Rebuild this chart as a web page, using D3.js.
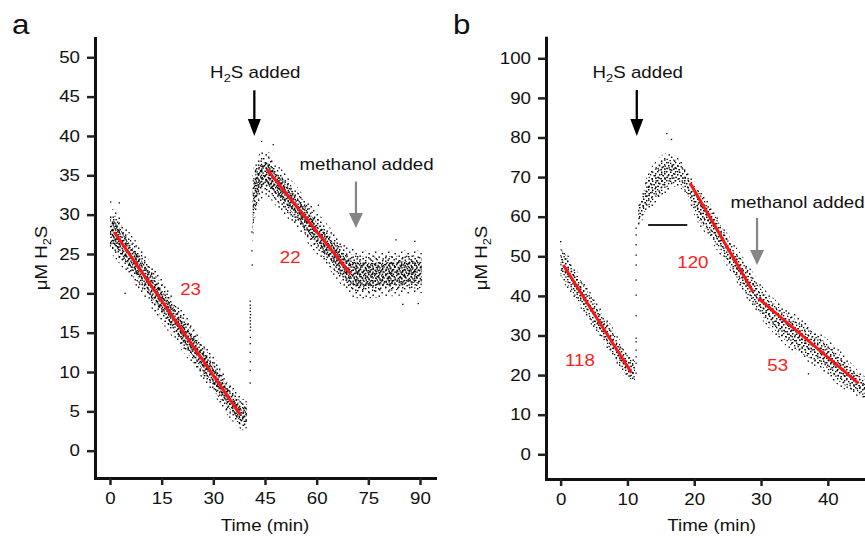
<!DOCTYPE html>
<html><head><meta charset="utf-8">
<script src="https://cdn.jsdelivr.net/npm/d3@7"></script>
<style>
body{margin:0;background:#fff}
svg{display:block}
text{font-family:"Liberation Sans",Arial,Helvetica,sans-serif}
</style>
</head><body>
<svg id="chart" width="865" height="538"></svg>
<script>
// ---------------- data ----------------
const xTicksA = [0, 15, 30, 45, 60, 75, 90];
const yTicksA = [0, 5, 10, 15, 20, 25, 30, 35, 40, 45, 50];
const xTicksB = [0, 10, 20, 30, 40];
const yTicksB = [0, 10, 20, 30, 40, 50, 60, 70, 80, 90, 100];

// panel a, trace before H2S addition (centre of the point cloud and its half-width)
const timeA1   = [0, 1, 3, 5, 8, 11, 14, 17, 20, 23, 26, 29, 32, 35, 37, 38.5, 39.7];
const midA1    = [27.8, 27.7, 26.6, 25.3, 23.5, 21.6, 19.7, 17.8, 15.9, 14.0, 12.1, 10.2, 8.3, 6.3, 5.2, 4.6, 4.6];
const spreadA1 = [2.8, 3.0, 3.0, 2.9, 2.9, 2.9, 2.8, 2.7, 2.6, 2.6, 2.5, 2.5, 2.4, 2.3, 2.1, 2.0, 1.8];
// panel a, trace after H2S addition
const timeA2   = [41.4, 42.0, 42.8, 44.0, 45.5, 48, 51, 54, 57, 60, 63, 66, 69, 71, 73, 76, 80, 84, 88, 90.5];
const midA2    = [30.5, 32.8, 34.0, 35.0, 35.2, 34.0, 32.5, 31.0, 29.3, 27.7, 26.1, 24.5, 23.0, 22.5, 22.4, 22.4, 22.5, 22.6, 22.7, 22.7];
const spreadA2 = [4.5, 3.8, 3.3, 3.0, 2.9, 2.8, 2.7, 2.7, 2.7, 2.7, 2.7, 2.8, 3.0, 3.1, 3.1, 3.0, 2.9, 2.9, 2.8, 2.7];
// panel a, isolated points (injection streak and outliers)
const pointTimeA = [40.7, 40.7, 40.75, 40.7, 40.8, 40.7, 40.75, 40.7, 40.8, 40.7, 40.75, 40.7, 40.7, 40.75, 40.7, 40.7, 41.2, 41.2, 41.3,
                    0.2, 2.7, 4.4, 44.0, 47.4, 60.5, 83, 88.5, 85, 89.5];
const pointValA  = [19.0, 18.5, 18.1, 17.7, 17.3, 16.9, 16.5, 16.1, 15.7, 15.3, 14.4, 13.6, 12.5, 11.3, 10.2, 8.6, 27.8, 25.4, 23.6,
                    31.6, 31.5, 20.0, 39.3, 38.9, 31.2, 26.8, 26.6, 18.6, 18.7];
// panel a, fitted red lines [start, end]
const fitTimeA = [[1.25, 37.9], [45.5, 69.9]];
const fitValA  = [[27.76, 4.54], [35.77, 22.46]];
const rateLabelsA = ["23", "22"];

// panel b, trace before H2S addition
const timeB1   = [0, 0.5, 2, 4, 6, 8, 10, 11.1];
const midB1    = [48.6, 47.6, 43.5, 38.2, 32.9, 27.6, 22.4, 21.0];
const spreadB1 = [4.5, 4.5, 4.2, 4.0, 4.0, 3.8, 3.6, 3.4];
// panel b, trace after H2S addition
const timeB2   = [11.6, 12.0, 12.9, 14.4, 15.9, 17.4, 18.9, 20.4, 22.4, 25.3, 28.3, 29.8, 32.8, 35.8, 38.8, 41.8, 44.8, 46.5];
const midB2    = [60.0, 61.6, 65.5, 68.8, 71.0, 71.4, 68.4, 63.5, 58.7, 50.7, 42.7, 39.0, 33.5, 29.6, 26.0, 21.7, 17.5, 15.5];
const spreadB2 = [3.0, 3.4, 4.6, 5.5, 5.0, 3.8, 3.4, 4.5, 4.6, 4.2, 4.6, 4.3, 4.6, 5.0, 4.6, 4.6, 3.2, 3.0];
// panel b, isolated points
const pointTimeB = [11.3, 11.3, 11.3, 11.3, 11.3, 11.3, 11.3, 11.3, 11.3, 11.3, 11.3, 11.3, 11.3, 11.3,
                    0.0, 15.9, 16.6, 37.1];
const pointValB  = [57.1, 55.4, 52.9, 50.3, 47.8, 44.0, 40.2, 35.0, 29.3, 28.4, 26.3, 24.6, 23.0, 20.5,
                    53.7, 81.0, 79.5, 20.3];
// panel b, fitted red lines
const fitTimeB = [[0.39, 10.6], [19.36, 28.8], [29.6, 44.6]];
const fitValB  = [[47.8, 20.6], [68.5, 41.06], [39.4, 17.9]];
const rateLabelsB = ["118", "120", "53"];
// panel b, black horizontal bar
const barTimeB = [13.1, 18.96];
const barValB  = 57.9;

// ---------------- drawing ----------------
const SX = 1.17; // horizontal stretch of the reference lettering
const svg = d3.select("#chart");
const defs = svg.append("defs");

function makePattern(id, size, pts, dot) {
  const p = defs.append("pattern").attr("id", id)
    .attr("patternUnits", "userSpaceOnUse").attr("width", size).attr("height", size);
  pts.forEach(([px, py]) => p.append("rect").attr("x", px).attr("y", py)
    .attr("width", dot).attr("height", dot).attr("fill", "#000"));
}
makePattern("sparse", 13, [[1,2],[8,0.5],[4.5,6],[11,4.5],[1.5,9.5],[8.5,8.5],[5.5,11.2],[11.5,11]], 1.4);
makePattern("medium", 9, [[0,0],[4,0.7],[7,2],[2,3],[5.5,4],[0.5,5.8],[3.5,7],[7.2,6.5]], 1.3);
makePattern("medium17", 17, [[0,1],[5,0],[11,2],[15,0.5],[2.5,4],[8,5],[13.5,4.5],[0.5,8],[5.5,7.5],[10,9],
  [15,8],[3,11.5],[8,12.5],[12.5,11.5],[1,15],[6,15.5],[11,15],[15.5,13]], 1.4);
makePattern("dense", 11, [[0,0],[3.5,0.8],[7,0.2],[9.4,2.3],[1.6,2.8],[5.2,3.2],[8,4.8],[0.4,5.6],[3.4,6.2],[6,7.2],
  [9.3,7.4],[2,8.8],[5,9.4],[7.8,9.6],[2.6,4.4],[6.8,5.4],[4.2,1.9],[0.8,9.5],[8.6,0.9],[4.4,8]], 1.4);

function zip(ts, ms, ss) { return ts.map((t, i) => ({t, m: ms[i], s: ss[i]})); }

function drawPanel(cfg) {
  const g = svg.append("g");
  const x = d3.scaleLinear().domain(cfg.xDomain).range(cfg.xRange);
  const y = d3.scaleLinear().domain(cfg.yDomain).range(cfg.yRange);

  // point clouds
  cfg.clouds.forEach(cl => {
    cfg.layers.forEach(([f, pat]) => {
      const area = d3.area().curve(d3.curveMonotoneX)
        .x(d => x(d.t)).y0(d => y(d.m - d.s * f)).y1(d => y(d.m + d.s * f));
      g.append("path").datum(cl).attr("d", area).attr("fill", `url(#${pat})`);
    });
  });
  // isolated points
  g.selectAll(null).data(cfg.pts).join("rect")
    .attr("x", d => x(d[0]) - 0.65).attr("y", d => y(d[1]) - 0.65)
    .attr("width", 1.3).attr("height", 1.3).attr("fill", "#000");

  // red fits
  cfg.fitT.forEach((ft, i) => {
    g.append("line").attr("x1", x(ft[0])).attr("y1", y(cfg.fitV[i][0]))
      .attr("x2", x(ft[1])).attr("y2", y(cfg.fitV[i][1]))
      .attr("stroke", "#ff1414").attr("stroke-width", 3);
  });
  cfg.rateLabels.forEach((lab, i) => {
    const [lt, lv] = cfg.ratePos[i];
    g.append("text").attr("transform", `translate(${x(lt)},${y(lv)}) scale(${SX},1)`)
      .attr("text-anchor", "middle").attr("font-size", 16).attr("fill", "#ff2020").text(lab);
  });

  // axes
  const ax = g.append("g").attr("transform", `translate(0,${cfg.yRange[0]})`)
    .call(d3.axisBottom(x).tickValues(cfg.xTicks).tickSize(7).tickPadding(8).tickSizeOuter(0));
  const ay = g.append("g").attr("transform", `translate(${cfg.xRange[0]},0)`)
    .call(d3.axisLeft(y).tickValues(cfg.yTicks).tickSize(8).tickPadding(7).tickSizeOuter(0));
  [ax, ay].forEach(a => {
    a.select(".domain").attr("stroke", "#111").attr("stroke-width", 3).attr("stroke-linecap", "square");
    a.selectAll(".tick line").attr("stroke", "#222").attr("stroke-width", 2.5);
    a.selectAll(".tick text").attr("font-size", 16).attr("fill", "#111")
      .attr("font-family", "Liberation Sans, Arial, sans-serif")
      .attr("transform", `scale(${SX},1)`);
  });
  ay.selectAll(".tick text").attr("x", -15 / SX);

  // axis titles
  g.append("text").attr("transform", `translate(${cfg.xTitle[0]},${cfg.xTitle[1]}) scale(${SX},1)`)
    .attr("text-anchor", "middle").attr("font-size", 16).attr("fill", "#111").text("Time (min)");
  const yt = g.append("text").attr("transform", `translate(${cfg.yTitle[0]},${cfg.yTitle[1]}) rotate(-90) scale(${SX},1)`)
    .attr("text-anchor", "middle").attr("font-size", 16).attr("fill", "#111");
  yt.append("tspan").text("\u03bcM H");
  yt.append("tspan").attr("font-size", 11).attr("dy", 4).text("2");
  yt.append("tspan").attr("dy", -4).text("S");

  // panel letter
  g.append("text").attr("transform", `translate(${cfg.letter[0]},${cfg.letter[1]}) scale(1.12,1)`)
    .attr("font-size", 28).attr("fill", "#111").text(cfg.letterText);

  // H2S arrow (black)
  const h = cfg.h2s;
  g.append("line").attr("x1", x(h.t)).attr("x2", x(h.t)).attr("y1", y(h.v0)).attr("y2", y(h.v1) - 12)
    .attr("stroke", "#000").attr("stroke-width", 2.3);
  g.append("path").attr("d", `M${x(h.t) - 6.5},${y(h.v1) - 17}L${x(h.t) + 6.5},${y(h.v1) - 17}L${x(h.t)},${y(h.v1)}Z`)
    .attr("fill", "#000");
  const ht = g.append("text").attr("transform", `translate(${x(h.t) + 1},${y(h.v0) - 12}) scale(${SX},1)`)
    .attr("text-anchor", "middle").attr("font-size", 16).attr("fill", "#111");
  ht.append("tspan").text("H");
  ht.append("tspan").attr("font-size", 11).attr("dy", 4).text("2");
  ht.append("tspan").attr("dy", -4).text("S added");

  // methanol arrow (grey)
  const m = cfg.meth;
  g.append("line").attr("x1", x(m.t)).attr("x2", x(m.t)).attr("y1", y(m.v0)).attr("y2", y(m.v1) - 12)
    .attr("stroke", "#858585").attr("stroke-width", 2.2);
  g.append("path").attr("d", `M${x(m.t) - 7},${y(m.v1) - 15}L${x(m.t) + 7},${y(m.v1) - 15}L${x(m.t)},${y(m.v1)}Z`)
    .attr("fill", "#858585");
  g.append("text").attr("transform", `translate(${m.lx},${m.ly}) scale(${SX},1)`)
    .attr("text-anchor", "middle").attr("font-size", 16).attr("fill", "#111").text("methanol added");

  return {g, x, y};
}

const layersA = [[1.0, "sparse"], [0.75, "medium17"], [0.5, "dense"]];
const layersB = [[1.0, "sparse"], [0.75, "medium"], [0.4, "medium"]];

const A = drawPanel({
  xDomain: [-4.35, 94.35], xRange: [95, 435],
  yDomain: [-3.47, 52.45], yRange: [478, 38],
  xTicks: xTicksA, yTicks: yTicksA,
  clouds: [zip(timeA1, midA1, spreadA1), zip(timeA2, midA2, spreadA2)],
  layers: layersA,
  pts: pointTimeA.map((t, i) => [t, pointValA[i]]),
  fitT: fitTimeA, fitV: fitValA,
  rateLabels: rateLabelsA, ratePos: [[23.4, 19.8], [52.3, 23.9]],
  xTitle: [265, 531], yTitle: [46.7, 258],
  letter: [12, 34], letterText: "a",
  h2s: {t: 41.9, v0: 45.8, v1: 40.0},
  meth: {t: 71.4, v0: 34.2, v1: 28.3, lx: 366.5, ly: 170}
});

const B = drawPanel({
  xDomain: [-2.19, 47.36], xRange: [546, 877],
  yDomain: [-6.24, 105.2], yRange: [479, 37.7],
  xTicks: xTicksB, yTicks: yTicksB,
  clouds: [zip(timeB1, midB1, spreadB1), zip(timeB2, midB2, spreadB2)],
  layers: layersB,
  pts: pointTimeB.map((t, i) => [t, pointValB[i]]),
  fitT: fitTimeB, fitV: fitValB,
  rateLabels: rateLabelsB, ratePos: [[2.9, 22.3], [19.8, 47.1], [32.5, 21.1]],
  xTitle: [711.7, 531], yTitle: [486.7, 258],
  letter: [453, 34], letterText: "b",
  h2s: {t: 11.4, v0: 92.0, v1: 80.4},
  meth: {t: 29.4, v0: 59.7, v1: 47.8, lx: 797.5, ly: 208}
});

B.g.append("line")
  .attr("x1", B.x(barTimeB[0])).attr("x2", B.x(barTimeB[1]))
  .attr("y1", B.y(barValB)).attr("y2", B.y(barValB))
  .attr("stroke", "#222").attr("stroke-width", 2);
</script>
</body></html>
